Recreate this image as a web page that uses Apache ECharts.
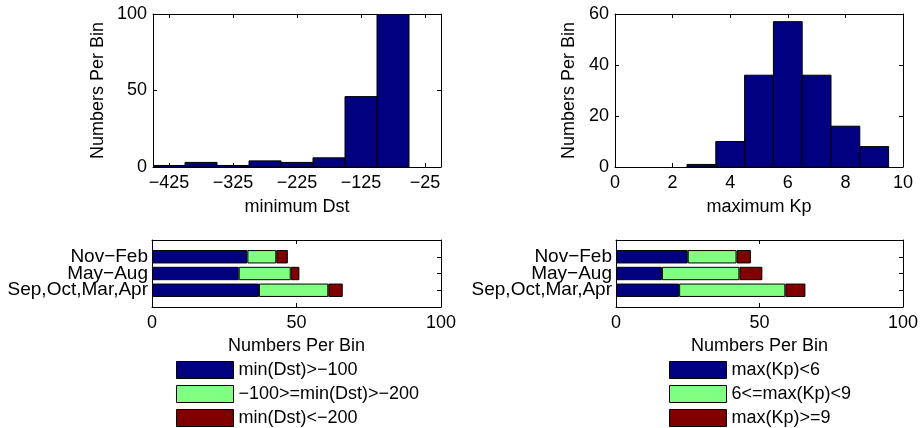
<!DOCTYPE html>
<html>
<head>
<meta charset="utf-8">
<script src="https://cdn.jsdelivr.net/npm/echarts@6/dist/echarts.min.js"></script>
<style>
html,body{margin:0;padding:0;background:#fff;}
#chart{width:921px;height:428px;}
</style>
</head>
<body>
<div id="chart"></div>
<script>
// ---- data ----
const dstBinCenters = [-425, -375, -325, -275, -225, -175, -125, -75];
const dstCounts     = [1, 3, 1, 4, 3, 6, 46, 100];
const dstTicks      = [-425, -325, -225, -125, -25];

const kpBinCenters  = [1, 2, 3, 4, 5, 6, 7, 8, 9];
const kpCounts      = [0, 0, 1, 10, 36, 57, 36, 16, 8];
const kpTicks       = [0, 2, 4, 6, 8, 10];

const seasons = ['Nov\u2212Feb', 'May\u2212Aug', 'Sep,Oct,Mar,Apr'];   // top to bottom
const dstLow  = [33, 30, 37];
const dstMid  = [10, 18, 24];
const dstHigh = [4, 3, 5];
const kpLow   = [25, 16, 22];
const kpMid   = [17, 27, 37];
const kpHigh  = [5, 8, 7];

const dstNames = ['min(Dst)>\u2212100', '\u2212100>=min(Dst)>\u2212200', 'min(Dst)<\u2212200'];
const kpNames  = ['max(Kp)<6', '6<=max(Kp)<9', 'max(Kp)>=9'];

// ---- styles ----
const FONT = '"Liberation Sans", Arial, sans-serif';
const FS = 18;
const C_BLUE = '#000080', C_GREEN = '#80ff80', C_RED = '#800000';
const minusFmt = v => String(v).replace('-', '\u2212');

const chart = echarts.init(document.getElementById('chart'));

function valAxis(opts) {
  return Object.assign({
    type: 'value',
    axisLine: {show: true, onZero: false, lineStyle: {color: '#000', width: 1}},
    axisTick: {show: true, inside: true, length: 4, lineStyle: {color: '#000'}},
    axisLabel: {show: true, color: '#000', fontSize: FS, fontFamily: FONT, formatter: minusFmt},
    splitLine: {show: false},
    nameTextStyle: {color: '#000', fontSize: FS, fontFamily: FONT},
    nameLocation: 'middle'
  }, opts);
}
function ticksOnly(a) {
  a.axisLabel = Object.assign({}, a.axisLabel, {show: false});
  a.name = '';
  return a;
}

const grids = [
  {left: 153, top: 14, width: 288, height: 153},
  {left: 615, top: 14, width: 288, height: 153},
  {left: 152, top: 240, width: 289, height: 67},
  {left: 616, top: 240, width: 288, height: 67}
];

const dstXBase = {gridIndex: 0, min: -450, max: 0,
  axisLabel: {color: '#000', fontSize: FS, fontFamily: FONT, formatter: minusFmt, customValues: dstTicks, margin: 7},
  axisTick: {show: true, inside: true, length: 4, customValues: dstTicks, lineStyle: {color: '#000'}}};
const kpXBase = {gridIndex: 1, min: 0, max: 10, interval: 2,
  axisLabel: {color: '#000', fontSize: FS, fontFamily: FONT, margin: 7}};

const xAxes = [
  valAxis(Object.assign({}, dstXBase, {position: 'bottom', name: 'minimum Dst', nameGap: 31})),
  ticksOnly(valAxis(Object.assign({}, dstXBase, {position: 'top'}))),
  valAxis(Object.assign({}, kpXBase, {position: 'bottom', name: 'maximum Kp', nameGap: 31})),
  ticksOnly(valAxis(Object.assign({}, kpXBase, {position: 'top'}))),
  valAxis({gridIndex: 2, min: 0, max: 100, interval: 50, position: 'bottom', name: 'Numbers Per Bin', nameGap: 30,
    axisLabel: {color: '#000', fontSize: FS, fontFamily: FONT, margin: 7}}),
  ticksOnly(valAxis({gridIndex: 2, min: 0, max: 100, interval: 50, position: 'top'})),
  valAxis({gridIndex: 3, min: 0, max: 100, interval: 50, position: 'bottom', name: 'Numbers Per Bin', nameGap: 30,
    axisLabel: {color: '#000', fontSize: FS, fontFamily: FONT, margin: 7}}),
  ticksOnly(valAxis({gridIndex: 3, min: 0, max: 100, interval: 50, position: 'top'}))
];

const catData = ['', ...seasons.slice().reverse(), ' '];
function catAxis(gi, pos, labels) {
  return {
    type: 'category', gridIndex: gi, position: pos, data: catData, boundaryGap: false,
    axisLine: {show: true, onZero: false, lineStyle: {color: '#000', width: 1}},
    axisTick: {show: true, inside: true, length: 4, interval: (i) => i > 0 && i < catData.length - 1, lineStyle: {color: '#000'}},
    axisLabel: {show: labels, interval: 0, color: '#000', fontSize: 19, fontFamily: FONT, margin: 4, lineHeight: 16},
    splitLine: {show: false}
  };
}

const yAxes = [
  valAxis({gridIndex: 0, min: 0, max: 100, interval: 50, position: 'left', name: 'Numbers Per Bin', nameGap: 46,
    axisLabel: {color: '#000', fontSize: FS, fontFamily: FONT, margin: 6}}),
  ticksOnly(valAxis({gridIndex: 0, min: 0, max: 100, interval: 50, position: 'right'})),
  valAxis({gridIndex: 1, min: 0, max: 60, interval: 20, position: 'left', name: 'Numbers Per Bin', nameGap: 37,
    axisLabel: {color: '#000', fontSize: FS, fontFamily: FONT, margin: 6}}),
  ticksOnly(valAxis({gridIndex: 1, min: 0, max: 60, interval: 20, position: 'right'})),
  catAxis(2, 'left', true),
  catAxis(2, 'right', false),
  catAxis(3, 'left', true),
  catAxis(3, 'right', false)
];

function histRender(centers) {
  const binW = centers[1] - centers[0];
  return function (params, api) {
    const c = api.value(0), v = api.value(1);
    if (!v) return null;
    const p0 = api.coord([c - binW / 2, 0]);
    const p1 = api.coord([c + binW / 2, v]);
    return {
      type: 'rect',
      shape: {x: p0[0], y: p1[1], width: p1[0] - p0[0], height: p0[1] - p1[1]},
      style: {fill: C_BLUE, stroke: '#000', lineWidth: 1}
    };
  };
}

const pad = arr => [null, ...arr.slice().reverse(), null];
function stackBar(name, vals, color, xi, yi, stack) {
  return {
    type: 'bar', name: name, data: pad(vals), stack: stack, xAxisIndex: xi, yAxisIndex: yi,
    barWidth: '80%', itemStyle: {color: color, borderColor: '#000', borderWidth: 1},
    silent: true, animation: false
  };
}

const series = [
  {type: 'custom', xAxisIndex: 0, yAxisIndex: 0, data: dstBinCenters.map((c, i) => [c, dstCounts[i]]),
    renderItem: histRender(dstBinCenters), clip: true, animation: false, silent: true},
  {type: 'custom', xAxisIndex: 2, yAxisIndex: 2, data: kpBinCenters.map((c, i) => [c, kpCounts[i]]),
    renderItem: histRender(kpBinCenters), clip: true, animation: false, silent: true},
  stackBar(dstNames[0], dstLow, C_BLUE, 4, 4, 'dst'),
  stackBar(dstNames[1], dstMid, C_GREEN, 4, 4, 'dst'),
  stackBar(dstNames[2], dstHigh, C_RED, 4, 4, 'dst'),
  stackBar(kpNames[0], kpLow, C_BLUE, 6, 6, 'kp'),
  stackBar(kpNames[1], kpMid, C_GREEN, 6, 6, 'kp'),
  stackBar(kpNames[2], kpHigh, C_RED, 6, 6, 'kp')
];

function legend(names, left, top) {
  return {
    data: names, orient: 'vertical', left: left, top: top, padding: 0,
    itemWidth: 57, itemHeight: 17, itemGap: 6, itemTextGap: 4, icon: 'rect', selectedMode: false,
    textStyle: {color: '#000', fontSize: FS, fontFamily: FONT, lineHeight: 17},
    itemStyle: {borderColor: '#000', borderWidth: 1}
  };
}

chart.setOption({
  animation: false,
  backgroundColor: '#fff',
  textStyle: {fontFamily: FONT},
  grid: grids,
  xAxis: xAxes,
  yAxis: yAxes,
  legend: [legend(dstNames, 176, 361), legend(kpNames, 669, 361)],
  series: series
});
</script>
</body>
</html>
